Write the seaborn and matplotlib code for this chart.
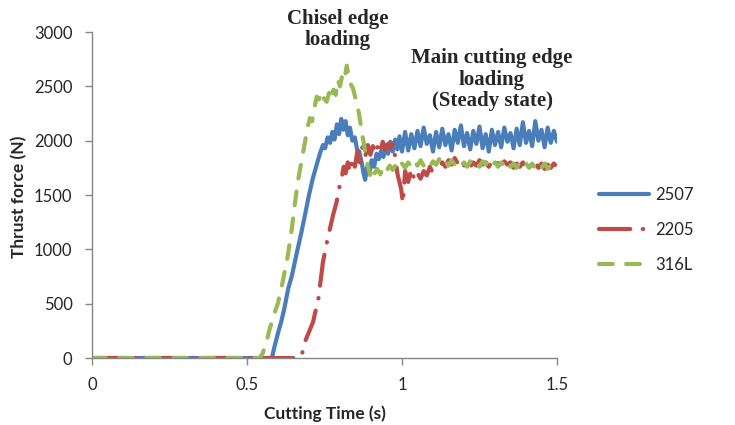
import pandas as pd
import seaborn as sns
import matplotlib.pyplot as plt
import matplotlib
matplotlib.use('Agg')

# dados (tempo em s, força em N)
alloys = ['2507', '2205', '316L']

time_2507 = [0.0, 0.58, 0.59, 0.60, 0.61, 0.62, 0.633, 0.645, 0.66, 0.675, 0.687, 0.70, 0.712, 0.725,
             0.735, 0.745, 0.752, 0.76, 0.768, 0.775, 0.782, 0.79, 0.797, 0.804, 0.811, 0.818, 0.825,
             0.832, 0.84, 0.848, 0.855, 0.862, 0.87, 0.876, 0.881, 0.888, 0.895, 0.902, 0.91, 0.918,
             0.925, 0.932, 0.94, 0.948, 0.955, 0.962, 0.97, 0.978, 0.985, 0.992, 1.0,
             1.01, 1.02, 1.03, 1.04, 1.05, 1.06, 1.07, 1.08, 1.09, 1.10, 1.11, 1.12, 1.13, 1.14, 1.15,
             1.16, 1.17, 1.18, 1.19, 1.20, 1.21, 1.22, 1.23, 1.24, 1.25, 1.26, 1.27, 1.28, 1.29, 1.30,
             1.31, 1.32, 1.33, 1.34, 1.35, 1.36, 1.37, 1.38, 1.39, 1.40, 1.41, 1.42, 1.43, 1.44, 1.45,
             1.46, 1.47, 1.48, 1.49, 1.50]
force_2507 = [0, 0, 120, 230, 330, 450, 640, 760, 960, 1150, 1316, 1500, 1650, 1780,
              1880, 1960, 1930, 2030, 1980, 2080, 2010, 2150, 2060, 2200, 2100, 2180, 2050,
              2120, 2000, 2030, 1920, 1900, 1800, 1700, 1640, 1760, 1700, 1820, 1760, 1880,
              1830, 1900, 1850, 1960, 1880, 1990, 1900, 2010, 1920, 2040, 1900,
              2080, 1910, 2060, 1930, 2090, 1950, 2120, 1970, 2050, 1900, 2080, 1940, 2110, 1960, 2060,
              1910, 2100, 1980, 2140, 1950, 2070, 1920, 2090, 1970, 2130, 1930, 2060, 1900, 2100, 1960,
              2080, 1940, 2120, 1990, 2070, 1930, 2110, 1960, 2170, 1980, 2090, 1950, 2180, 2000, 2100,
              1940, 2120, 1980, 2090, 1990]

time_2205 = [0.0, 0.67, 0.68, 0.687, 0.70, 0.713, 0.72, 0.729, 0.737, 0.745, 0.755, 0.768, 0.778,
             0.789, 0.797, 0.805, 0.812, 0.818, 0.825, 0.832, 0.84, 0.848, 0.856, 0.864, 0.872, 0.881,
             0.89, 0.898, 0.906, 0.914, 0.923, 0.93, 0.938, 0.946, 0.955, 0.963, 0.97, 0.978, 0.985,
             0.99, 0.997, 1.003, 1.01, 1.02, 1.03, 1.04, 1.05, 1.06, 1.07, 1.08, 1.09, 1.10, 1.11,
             1.12, 1.13, 1.14, 1.15, 1.16, 1.17, 1.18, 1.19, 1.20, 1.21, 1.22, 1.23, 1.24, 1.25, 1.26,
             1.27, 1.28, 1.29, 1.30, 1.31, 1.32, 1.33, 1.34, 1.35, 1.36, 1.37, 1.38, 1.39, 1.40, 1.41,
             1.42, 1.43, 1.44, 1.45, 1.46, 1.47, 1.48, 1.49, 1.50]
force_2205 = [0, 0, 60, 150, 240, 331, 420, 515, 700, 883, 1030, 1196, 1320,
              1435, 1560, 1656, 1760, 1700, 1800, 1711, 1840, 1760, 1900, 1800, 1940, 1850,
              1960, 1870, 1950, 1880, 1960, 1900, 1990, 1920, 1970, 1930, 1980, 1850, 1700,
              1640, 1560, 1426, 1720, 1620, 1740, 1640, 1700, 1650, 1720, 1680, 1760, 1700, 1790,
              1740, 1800, 1760, 1820, 1780, 1840, 1790, 1820, 1770, 1810, 1760, 1800, 1770, 1820, 1780,
              1800, 1760, 1810, 1770, 1800, 1760, 1810, 1780, 1800, 1750, 1790, 1760, 1800, 1750, 1790,
              1760, 1810, 1750, 1790, 1740, 1780, 1750, 1790, 1760]

time_316L = [0.0, 0.54, 0.55, 0.56, 0.574, 0.587, 0.60, 0.615, 0.632, 0.645, 0.655, 0.665, 0.677,
             0.687, 0.695, 0.703, 0.71, 0.717, 0.725, 0.732, 0.74, 0.748, 0.757, 0.765, 0.772, 0.779,
             0.786, 0.793, 0.80, 0.807, 0.814, 0.822, 0.828, 0.835, 0.842, 0.85, 0.858, 0.864, 0.87,
             0.876, 0.881, 0.889, 0.897, 0.905, 0.912, 0.92, 0.93, 0.94, 0.95, 0.96, 0.97, 0.98, 0.99,
             1.0, 1.01, 1.02, 1.03, 1.04, 1.05, 1.06, 1.07, 1.08, 1.09, 1.10, 1.11, 1.12, 1.13, 1.14,
             1.15, 1.16, 1.17, 1.18, 1.19, 1.20, 1.21, 1.22, 1.23, 1.24, 1.25, 1.26, 1.27, 1.28, 1.29,
             1.30, 1.31, 1.32, 1.33, 1.34, 1.35, 1.36, 1.37, 1.38, 1.39, 1.40, 1.41, 1.42, 1.43, 1.44,
             1.45, 1.46, 1.47, 1.48, 1.49, 1.50]
force_316L = [0, 0, 40, 120, 276, 400, 506, 700, 948, 1200, 1435, 1640, 1830,
              1987, 2120, 2208, 2180, 2300, 2404, 2380, 2450, 2390, 2358, 2440, 2380, 2470,
              2420, 2560, 2500, 2600, 2560, 2690, 2580, 2520, 2480, 2390, 2300, 2200, 2082,
              1990, 1895, 1780, 1684, 1760, 1700, 1740, 1690, 1760, 1720, 1770, 1730, 1780, 1740,
              1790, 1750, 1800, 1760, 1810, 1770, 1820, 1770, 1800, 1760, 1810, 1780, 1830, 1780, 1810,
              1770, 1820, 1780, 1810, 1770, 1800, 1760, 1810, 1770, 1800, 1760, 1810, 1780, 1820, 1770,
              1800, 1760, 1800, 1770, 1810, 1760, 1790, 1750, 1800, 1760, 1790, 1750, 1790, 1740, 1780,
              1750, 1790, 1740, 1780, 1750, 1770]

x_ticks = [0, 0.5, 1, 1.5]
x_tick_labels = ['0', '0.5', '1', '1.5']
y_ticks = [0, 500, 1000, 1500, 2000, 2500, 3000]

# montando um dataframe longo
df = pd.concat([
    pd.DataFrame({'time': time_2507, 'force': force_2507, 'alloy': '2507'}),
    pd.DataFrame({'time': time_2205, 'force': force_2205, 'alloy': '2205'}),
    pd.DataFrame({'time': time_316L, 'force': force_316L, 'alloy': '316L'}),
], ignore_index=True)

sns.set_style('white')
plt.rcParams['font.family'] = ['Lato', 'DejaVu Sans']

cores = {'2507': '#4A7EBB', '2205': '#BE4B48', '316L': '#98B954'}
tracos = {'2507': '', '2205': (7.5, 3.0, 0.1, 3.0), '316L': (3.3, 3.2)}

fig = plt.figure(figsize=(7.35, 4.25), dpi=100)
ax = fig.add_axes([0.1252, 0.1576, 0.6326, 0.7671])

sns.lineplot(data=df, x='time', y='force', hue='alloy', style='alloy', hue_order=alloys,
             style_order=alloys, palette=cores, dashes=tracos, estimator=None, sort=False,
             linewidth=3.0, legend=False, ax=ax,
             dash_capstyle='round', solid_capstyle='round')

ax.set_xlim(0, 1.5)
ax.set_ylim(0, 3000)
ax.set_xticks(x_ticks)
ax.set_xticklabels(x_tick_labels)
ax.set_yticks(y_ticks)
ax.tick_params(axis='both', labelsize=12, length=5, width=1, color='#868686',
               direction='out', left=True, bottom=True)
ax.tick_params(axis='x', pad=9)
ax.tick_params(axis='y', pad=9)
for lado in ['top', 'right']:
    ax.spines[lado].set_visible(False)
for lado in ['left', 'bottom']:
    ax.spines[lado].set_color('#868686')
    ax.spines[lado].set_linewidth(1)

ax.set_xlabel('Cutting Time (s)', fontsize=12.5, fontweight='bold')
ax.set_ylabel('Thrust force (N)', fontsize=12.5, fontweight='bold')
ax.xaxis.set_label_coords(324.5 / 735, 1 - 414 / 425, transform=fig.transFigure)
ax.yaxis.set_label_coords(19 / 735, 1 - 197 / 425, transform=fig.transFigure)
ax.xaxis.label.set_va('center')
ax.yaxis.label.set_va('center')

# anotações em fonte serifada
fonte_serif = ['Liberation Serif', 'DejaVu Serif']
fig.text(338 / 735, 1 - 9 / 425, 'Chisel edge\nloading', family=fonte_serif, fontsize=15,
         fontweight='bold', ha='center', va='top', linespacing=1.1)
fig.text(492 / 735, 1 - 48 / 425, 'Main cutting edge\nloading\n(Steady state)', family=fonte_serif,
         fontsize=15, fontweight='bold', ha='center', va='top', linespacing=1.1)

linhas = ax.get_lines()[:3]
fig.legend(linhas, alloys, loc='center left', bbox_to_anchor=(584 / 735, 1 - 230 / 425),
           frameon=False, fontsize=12, handlelength=3.0, handletextpad=0.4, labelspacing=1.15)

fig.savefig('out.png', dpi=100)
